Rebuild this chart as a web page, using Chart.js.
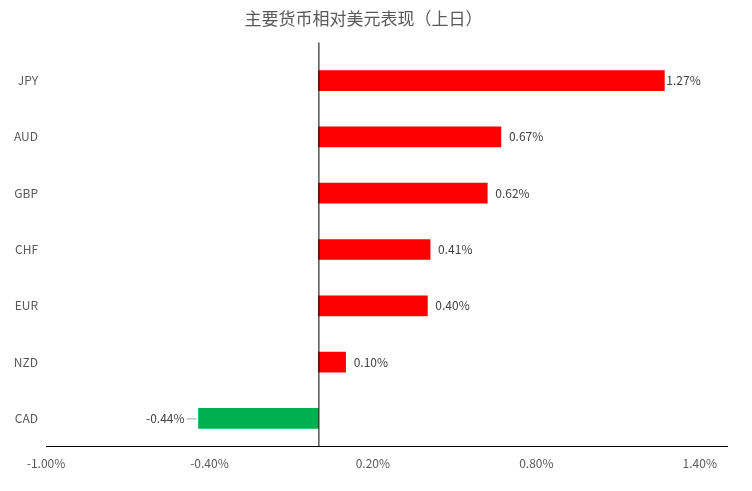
<!DOCTYPE html>
<html>
<head>
<meta charset="utf-8">
<script src="https://cdn.jsdelivr.net/npm/chart.js@4"></script>
<style>
  body { margin: 0; background: #fff; }
  #wrap { width: 752px; height: 491px; }
</style>
</head>
<body>
<div id="wrap"><canvas id="chart"></canvas></div>
<script>
const currencies = ["JPY", "AUD", "GBP", "CHF", "EUR", "NZD", "CAD"];
const changes = [1.27, 0.67, 0.62, 0.41, 0.40, 0.10, -0.44];
const tickValues = [-1.0, -0.4, 0.2, 0.8, 1.4];

const fontFamily = "'Microsoft YaHei', 'Noto Sans CJK SC', 'Noto Sans', sans-serif";

const valueLabels = {
    id: "valueLabels",
    afterDatasetsDraw(chart) {
        const ctx = chart.ctx;
        const meta = chart.getDatasetMeta(0);
        const xScale = chart.scales.x;
        const zero = xScale.getPixelForValue(0);
        ctx.save();
        // zero line
        ctx.strokeStyle = "#000";
        ctx.lineWidth = 1;
        ctx.beginPath();
        ctx.moveTo(zero + 0.5, chart.chartArea.top - 10);
        ctx.lineTo(zero + 0.5, chart.chartArea.bottom);
        ctx.stroke();

        ctx.font = "12px " + fontFamily;
        ctx.fillStyle = "#404040";
        ctx.textBaseline = "middle";
        meta.data.forEach((bar, i) => {
            const v = changes[i];
            const text = v.toFixed(2) + "%";
            if (v >= 0) {
                ctx.textAlign = "left";
                ctx.fillText(text, bar.x + (v > 1 ? 2 : 8), bar.y);
            } else {
                ctx.textAlign = "right";
                ctx.fillText(text, bar.x - 14, bar.y);
                ctx.strokeStyle = "#a6a6a6";
                ctx.beginPath();
                ctx.moveTo(bar.x - 12, bar.y + 0.5);
                ctx.lineTo(bar.x - 2, bar.y + 0.5);
                ctx.stroke();
            }
        });
        ctx.restore();
    }
};

new Chart(document.getElementById("chart"), {
    type: "bar",
    data: {
        labels: currencies,
        datasets: [{
            data: changes,
            backgroundColor: changes.map(v => v >= 0 ? "#ff0000" : "#00b050"),
            barThickness: 20
        }]
    },
    options: {
        indexAxis: "y",
        responsive: true,
        maintainAspectRatio: false,
        animation: false,
        layout: { padding: { left: 0, right: 25, top: 0, bottom: 10 } },
        plugins: {
            legend: { display: false },
            tooltip: { enabled: false },
            title: {
                display: true,
                text: "主要货币相对美元表现（上日）",
                color: "#595959",
                font: { family: fontFamily, size: 17, weight: "normal" },
                padding: { top: 8, bottom: 24 }
            }
        },
        scales: {
            x: {
                min: -1.0,
                max: 1.5,
                afterBuildTicks(scale) {
                    scale.ticks = tickValues.map(v => ({ value: v }));
                },
                grid: { display: false, drawTicks: false },
                border: { display: true, color: "#000" },
                ticks: {
                    color: "#595959",
                    font: { family: fontFamily, size: 12 },
                    padding: 10,
                    callback: v => v.toFixed(2) + "%"
                }
            },
            y: {
                afterFit(scale) { scale.width = 46; },
                grid: { display: false, drawTicks: false },
                border: { display: false },
                ticks: {
                    color: "#595959",
                    font: { family: fontFamily, size: 12 },
                    padding: 8
                }
            }
        }
    },
    plugins: [valueLabels]
});
</script>
</body>
</html>
